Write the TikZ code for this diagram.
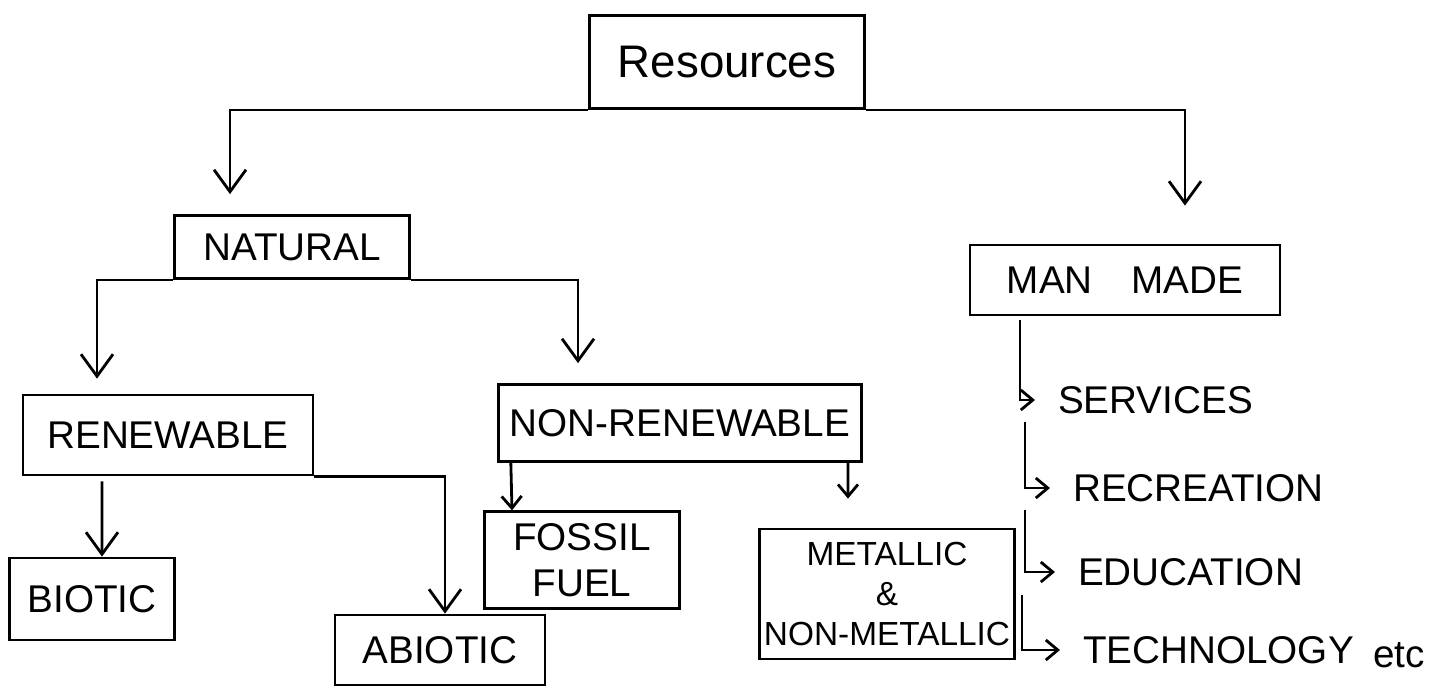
\documentclass[tikz,border=0pt]{standalone}
\usepackage{fontspec}
\setmainfont{Liberation Sans}
\usetikzlibrary{arrows.meta}
\begin{document}
\begin{tikzpicture}[x=0.1mm, y=-0.1mm, thick, >={Straight Barb[length=2.2mm,width=3.2mm]},
    box/.style={draw, minimum width=#1, align=center, font=\fontsize{11}{13}\selectfont},
    item/.style={anchor=west, font=\fontsize{11}{13}\selectfont},
    small/.style={-{Straight Barb[length=1.2mm,width=2mm]}}]
        \useasboundingbox (0,0) rectangle (1445,688);
        % boxes
        \node[box=27.5mm, minimum height=9.3mm, font=\fontsize{13}{15}\selectfont] (res) at (727,62) {Resources};
        \node[box=23.5mm, minimum height=6.3mm] (nat) at (292,247) {NATURAL};
        \node[box=31mm, minimum height=7mm] (man) at (1125,280) {MAN\quad MADE};
        \node[box=29mm, minimum height=8mm] (ren) at (168,435) {RENEWABLE};
        \node[box=36mm, minimum height=7.7mm] (nonren) at (680,423) {NON-RENEWABLE};
        \node[box=16.5mm, minimum height=8.2mm] (bio) at (92,599) {BIOTIC};
        \node[box=21mm, minimum height=7mm] (abio) at (440,650) {ABIOTIC};
        \node[box=19.5mm, minimum height=9.5mm] (fos) at (582,560) {FOSSIL\\FUEL};
        \node[box=25.5mm, minimum height=13mm, inner xsep=1pt, font=\fontsize{9.5}{11.5}\selectfont] (met) at (887,594) {METALLIC\\\&\\NON-METALLIC};
        % man made list
        \node[item] (srv) at (1045,400) {SERVICES};
        \node[item] (rec) at (1060,488) {RECREATION};
        \node[item] (edu) at (1065,572) {EDUCATION};
        \node[item] (tech) at (1070,650) {TECHNOLOGY};
        \node[item] (etc) at (1360,655) {etc};
        \coordinate (l1) at (1020,320);
        \coordinate (l2) at (1025,422);
        \coordinate (l3) at (1025,510);
        \coordinate (l4) at (1022,595);
        % connectors
        \draw[->] (res.south west) -| ([xshift=-6.2mm,yshift=2mm]nat.north);
        \draw[->] (res.south east) -| ([xshift=6mm,yshift=3.8mm]man.north);
        \draw[->] (nat.south west) -| ([xshift=-7.1mm,yshift=1.5mm]ren.north);
        \draw[->] (nat.south east) -| ([xshift=-10.2mm,yshift=2mm]nonren.north);
        \draw[->] ([xshift=-6.6mm,yshift=-0.5mm]ren.south) -- ([xshift=1mm]bio.north);
        \draw[->] (ren.south east) -| ([xshift=0.5mm]abio.north);
        \draw[small] ([xshift=1.4mm]nonren.south west) -- ([xshift=-7mm]fos.north);
        \draw[small] ([xshift=16.8mm]nonren.south) -- ([xshift=-3.9mm,yshift=2.9mm]met.north);
        \draw[small] (l1) |- ([xshift=-1mm]srv.west);
        \draw[small] (l2) |- ([xshift=-1mm]rec.west);
        \draw[small] (l3) |- ([xshift=-1mm]edu.west);
        \draw[small] (l4) |- ([xshift=-1mm]tech.west);
\end{tikzpicture}
\end{document}
